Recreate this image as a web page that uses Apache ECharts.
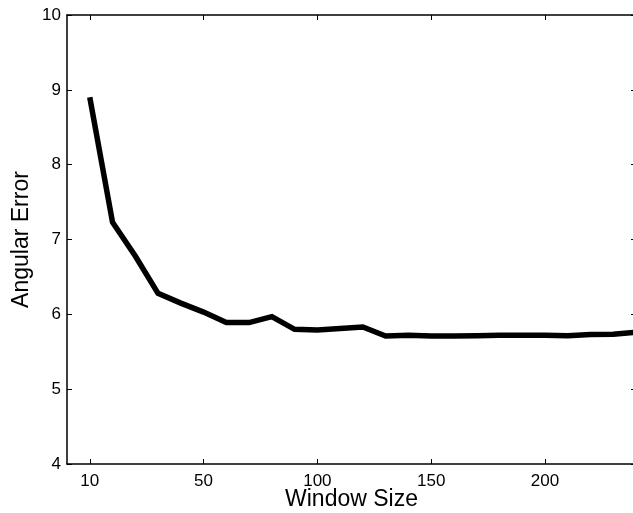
<!DOCTYPE html>
<html>
<head>
<meta charset="utf-8">
<script src="https://cdn.jsdelivr.net/npm/echarts@6/dist/echarts.min.js"></script>
<style>
html,body{margin:0;padding:0;background:#fff;}
#chart{width:633px;height:513px;}
</style>
</head>
<body>
<div id="chart"></div>
<script>
// x positions of samples on the axis (axis units)
var xPositions = [0,10,20,30,40,50,60,70,80,90,100,110,120,130,140,150,160,170,180,190,200,210,220,230,240];
// Angular error values
var angularError = [8.90,7.23,6.78,6.28,6.15,6.03,5.89,5.89,5.97,5.80,5.79,5.81,5.83,5.71,5.72,5.71,5.71,5.715,5.72,5.72,5.72,5.715,5.73,5.735,5.76];
// tick positions and their labels
var xTickValues = [0,50,100,150,200];
var xTickLabels = ['10','50','100','150','200'];

var chart = echarts.init(document.getElementById('chart'));
var font = 'Liberation Sans, Arial, sans-serif';
var data = xPositions.map(function(x,i){return [x, angularError[i]];});
var labelMap = {};
xTickValues.forEach(function(v,i){labelMap[v]=xTickLabels[i];});

chart.setOption({
  animation:false,
  backgroundColor:'#fff',
  grid:{left:67, top:15, right:-3, bottom:49, containLabel:false, outerBoundsMode:'none'},
  xAxis:[{
    type:'value', min:-10, max:240, position:'bottom',
    name:'Window Size', nameLocation:'middle', nameGap:24, nameMoveOverlap:false,
    nameTextStyle:{fontFamily:font, fontSize:23, color:'#000'},
    axisLine:{show:true, onZero:false, lineStyle:{color:'#000', width:1.5}},
    axisTick:{show:true, inside:true, length:5, customValues:xTickValues, lineStyle:{color:'#000'}},
    axisLabel:{show:true, customValues:xTickValues, margin:9, fontFamily:font, fontSize:17, color:'#000',
      formatter:function(v){return labelMap[v]!==undefined?labelMap[v]:'';}},
    splitLine:{show:false}
  },{
    type:'value', min:-10, max:240, position:'top',
    axisLine:{show:true, onZero:false, lineStyle:{color:'#000', width:1.5}},
    axisTick:{show:true, inside:true, length:5, customValues:xTickValues, lineStyle:{color:'#000'}},
    axisLabel:{show:false},
    splitLine:{show:false}
  }],
  yAxis:[{
    type:'value', min:4, max:10, interval:1, position:'left',
    name:'Angular Error', nameLocation:'middle', nameGap:34, nameRotate:90, nameMoveOverlap:false,
    nameTextStyle:{fontFamily:font, fontSize:23, color:'#000'},
    axisLine:{show:true, onZero:false, lineStyle:{color:'#000', width:1.5}},
    axisTick:{show:true, inside:true, length:5, lineStyle:{color:'#000'}},
    axisLabel:{show:true, margin:6, fontFamily:font, fontSize:17, color:'#000'},
    splitLine:{show:false}
  },{
    type:'value', min:4, max:10, interval:1, position:'right',
    axisLine:{show:true, onZero:false, lineStyle:{color:'#000', width:1.5}},
    axisTick:{show:true, inside:true, length:5, lineStyle:{color:'#000'}},
    axisLabel:{show:false},
    splitLine:{show:false}
  }],
  series:[{
    type:'line', data:data, xAxisIndex:0, yAxisIndex:0,
    showSymbol:false, symbol:'none', clip:false,
    lineStyle:{color:'#000', width:5.5, join:'miter'},
    itemStyle:{color:'#000'}
  }]
});
</script>
</body>
</html>
